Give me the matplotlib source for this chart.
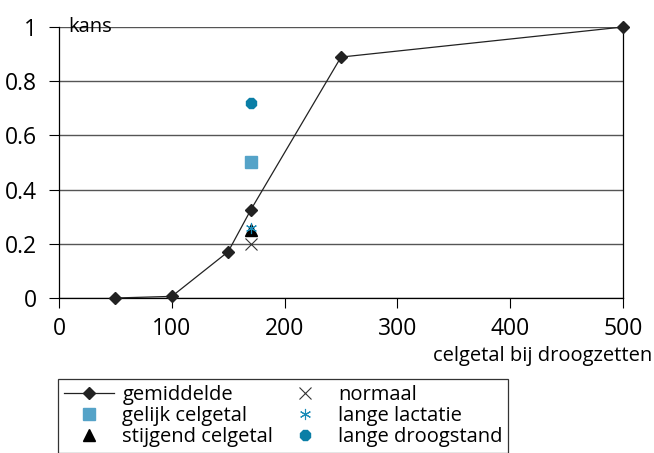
import matplotlib
matplotlib.use('Agg')
import matplotlib.pyplot as plt

plt.rcParams['font.family'] = ['Open Sans', 'DejaVu Sans']

# gemiddelde curve
celgetal = [50, 100, 150, 170, 250, 500]
kans = [0.0, 0.006, 0.171, 0.325, 0.889, 1.0]

# single groups at celgetal 170
x_groep = 170
gelijk = 0.503
stijgend = 0.25
normaal = 0.20
lactatie = 0.26
droogstand = 0.72

xticks = [0, 100, 200, 300, 400, 500]
yticks = [0, 0.2, 0.4, 0.6, 0.8, 1]
ylabels = ['0', '0.2', '0.4', '0.6', '0.8', '1']

fig = plt.figure(figsize=(6.54, 4.53), dpi=100)
ax = fig.add_axes([59/654, 1-298/453, (623-59)/654, (298-27)/453])

ax.plot(celgetal, kans, color='#222222', lw=0.9, marker='D', ms=6.5,
        mfc='#222222', mec='#222222', label='gemiddelde', zorder=4, clip_on=False)
ax.plot([x_groep], [gelijk], ls='none', marker='s', ms=8, color='#55a3c8',
        label='gelijk celgetal', zorder=3)
ax.plot([x_groep], [stijgend], ls='none', marker='^', ms=8, color='black',
        label='stijgend celgetal', zorder=3)
ax.plot([x_groep], [normaal], ls='none', marker='x', ms=8, color='#333333',
        mew=0.8, label='normaal', zorder=3)
ax.plot([x_groep], [lactatie], ls='none', marker=(6, 2, 0), ms=8, color='#1a8cb8',
        mew=0.8, label='lange lactatie', zorder=3)
ax.plot([x_groep], [droogstand], ls='none', marker='8', ms=8.5, color='#0a7ea6',
        label='lange droogstand', zorder=3)

ax.set_xlim(0, 500)
ax.set_ylim(0, 1)
ax.set_xticks(xticks)
ax.set_yticks(yticks)
ax.set_yticklabels(ylabels)
ax.tick_params(axis='both', direction='out', length=7, width=0.8, labelsize=16.5,
               colors='black')
ax.tick_params(axis='x', pad=7)
ax.tick_params(axis='y', pad=9)
ax.grid(axis='y', color='#555555', lw=1)
ax.set_axisbelow(True)
ax.spines['top'].set_visible(False)
for s in ['left', 'right', 'bottom']:
    ax.spines[s].set_color('black')
    ax.spines[s].set_linewidth(0.9)

ax.text(0.016, 1.0, 'kans', transform=ax.transAxes, fontsize=14.5,
        va='center', ha='left')
fig.text(652/654, 1-361/453, 'celgetal bij droogzetten', fontsize=14.5,
         ha='right', va='baseline')

leg = ax.legend(loc='upper left', bbox_to_anchor=(58/654, 1-379/453),
                bbox_transform=fig.transFigure, ncol=2, fontsize=14.5,
                frameon=True, fancybox=False, edgecolor='black',
                handlelength=2.5, handletextpad=0.4, columnspacing=0.3,
                labelspacing=0.05, borderpad=0.3, borderaxespad=0)
leg.get_frame().set_linewidth(0.9)

fig.savefig('out.png', dpi=100)
